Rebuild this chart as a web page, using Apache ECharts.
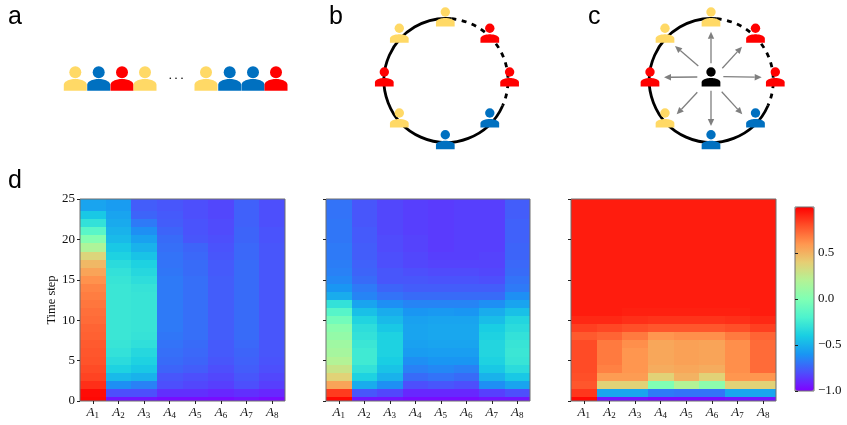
<!DOCTYPE html>
<html><head><meta charset="utf-8">
<style>html,body{margin:0;padding:0;background:#fff}#c{width:847px;height:425px}</style>
<script src="https://cdn.jsdelivr.net/npm/echarts@6/dist/echarts.min.js"></script>
</head><body><div id="c"></div>
<script>
const agentLabels = ['1','2','3','4','5','6','7','8'];
const yTicks = [0,5,10,15,20,25];
const colorbarTicks = [-1,-0.5,0,0.5];
const panelLetters = ['a','b','c','d'];
const lineAgents = ['y','b','r','y','y','b','b','r'];
const ringAgents = ['y','r','r','b','b','y','r','y'];

// each column is one agent, values from t=0 to t=25
const panelA = [
 [0.98,0.97,0.88,0.83,0.81,0.79,0.78,0.77,0.75,0.74,0.72,0.71,0.69,0.67,0.65,0.61,0.55,0.48,0.36,0.18,0.02,-0.15,-0.3,-0.42,-0.55,-0.55],
 [-0.95,-0.8,-0.62,-0.47,-0.38,-0.33,-0.3,-0.28,-0.27,-0.27,-0.27,-0.27,-0.27,-0.27,-0.27,-0.28,-0.3,-0.33,-0.38,-0.42,-0.47,-0.5,-0.53,-0.55,-0.58,-0.58],
 [-0.95,-0.8,-0.66,-0.5,-0.42,-0.38,-0.35,-0.31,-0.29,-0.28,-0.28,-0.28,-0.28,-0.28,-0.29,-0.32,-0.35,-0.38,-0.44,-0.5,-0.56,-0.62,-0.68,-0.74,-0.76,-0.76],
 [-0.97,-0.88,-0.8,-0.78,-0.74,-0.72,-0.71,-0.7,-0.69,-0.68,-0.68,-0.68,-0.68,-0.68,-0.68,-0.68,-0.69,-0.7,-0.7,-0.71,-0.72,-0.74,-0.76,-0.77,-0.78,-0.78],
 [-0.97,-0.88,-0.82,-0.8,-0.76,-0.74,-0.73,-0.72,-0.71,-0.71,-0.71,-0.71,-0.71,-0.71,-0.71,-0.71,-0.72,-0.72,-0.73,-0.74,-0.78,-0.79,-0.79,-0.8,-0.8,-0.8],
 [-0.97,-0.9,-0.84,-0.82,-0.8,-0.78,-0.77,-0.77,-0.76,-0.76,-0.76,-0.76,-0.76,-0.76,-0.76,-0.76,-0.77,-0.77,-0.78,-0.79,-0.8,-0.81,-0.81,-0.82,-0.82,-0.82],
 [-0.95,-0.88,-0.8,-0.78,-0.76,-0.75,-0.74,-0.73,-0.72,-0.72,-0.72,-0.72,-0.72,-0.72,-0.72,-0.72,-0.72,-0.72,-0.73,-0.73,-0.74,-0.74,-0.75,-0.75,-0.75,-0.75],
 [-0.97,-0.9,-0.84,-0.82,-0.8,-0.79,-0.78,-0.78,-0.78,-0.78,-0.78,-0.78,-0.78,-0.78,-0.78,-0.78,-0.78,-0.78,-0.78,-0.78,-0.79,-0.79,-0.8,-0.8,-0.8,-0.8]
];
const panelB = [
 [0.98,0.85,0.55,0.38,0.28,0.2,0.15,0.12,0.08,0.04,-0.05,-0.16,-0.3,-0.52,-0.6,-0.64,-0.66,-0.67,-0.68,-0.68,-0.69,-0.69,-0.69,-0.7,-0.7,-0.7],
 [-0.95,-0.78,-0.52,-0.38,-0.3,-0.25,-0.25,-0.27,-0.3,-0.32,-0.37,-0.45,-0.55,-0.65,-0.68,-0.72,-0.74,-0.75,-0.76,-0.76,-0.77,-0.77,-0.78,-0.78,-0.78,-0.78],
 [-0.95,-0.82,-0.62,-0.5,-0.44,-0.4,-0.38,-0.38,-0.38,-0.42,-0.47,-0.52,-0.62,-0.7,-0.74,-0.78,-0.78,-0.8,-0.8,-0.81,-0.81,-0.82,-0.82,-0.82,-0.82,-0.82],
 [-0.97,-0.9,-0.8,-0.72,-0.66,-0.62,-0.58,-0.56,-0.55,-0.55,-0.56,-0.6,-0.65,-0.72,-0.76,-0.78,-0.8,-0.82,-0.82,-0.83,-0.83,-0.84,-0.84,-0.84,-0.84,-0.84],
 [-0.97,-0.9,-0.78,-0.7,-0.64,-0.6,-0.57,-0.55,-0.54,-0.54,-0.55,-0.59,-0.65,-0.72,-0.76,-0.79,-0.81,-0.83,-0.84,-0.85,-0.85,-0.85,-0.85,-0.85,-0.85,-0.85],
 [-0.97,-0.9,-0.8,-0.72,-0.66,-0.6,-0.57,-0.55,-0.54,-0.54,-0.55,-0.6,-0.65,-0.72,-0.76,-0.79,-0.81,-0.83,-0.84,-0.84,-0.84,-0.84,-0.84,-0.84,-0.84,-0.84],
 [-0.95,-0.84,-0.62,-0.5,-0.42,-0.38,-0.36,-0.36,-0.38,-0.4,-0.46,-0.52,-0.62,-0.72,-0.76,-0.8,-0.82,-0.83,-0.83,-0.84,-0.84,-0.84,-0.84,-0.84,-0.84,-0.84],
 [-0.95,-0.8,-0.55,-0.42,-0.33,-0.28,-0.27,-0.28,-0.3,-0.33,-0.36,-0.45,-0.55,-0.62,-0.68,-0.7,-0.72,-0.73,-0.74,-0.74,-0.75,-0.75,-0.75,-0.76,-0.76,-0.76]
];
const panelC = [
 [0.98,0.86,0.78,0.8,0.81,0.81,0.81,0.81,0.77,0.84,0.9,0.93,0.93,0.93,0.93,0.93,0.93,0.93,0.93,0.93,0.93,0.93,0.93,0.93,0.93,0.93],
 [-0.95,-0.55,0.38,0.58,0.66,0.68,0.68,0.68,0.74,0.82,0.9,0.93,0.93,0.93,0.93,0.93,0.93,0.93,0.93,0.93,0.93,0.93,0.93,0.93,0.93,0.93],
 [-0.95,-0.55,0.38,0.58,0.6,0.6,0.6,0.62,0.68,0.8,0.88,0.92,0.93,0.93,0.93,0.93,0.93,0.93,0.93,0.93,0.93,0.93,0.93,0.93,0.93,0.93],
 [-0.97,-0.68,0.0,0.38,0.52,0.54,0.54,0.54,0.6,0.78,0.87,0.92,0.93,0.93,0.93,0.93,0.93,0.93,0.93,0.93,0.93,0.93,0.93,0.93,0.93,0.93],
 [-0.97,-0.7,0.2,0.5,0.54,0.56,0.56,0.56,0.62,0.78,0.87,0.92,0.93,0.93,0.93,0.93,0.93,0.93,0.93,0.93,0.93,0.93,0.93,0.93,0.93,0.93],
 [-0.97,-0.7,0.05,0.38,0.52,0.55,0.55,0.55,0.62,0.78,0.87,0.92,0.93,0.93,0.93,0.93,0.93,0.93,0.93,0.93,0.93,0.93,0.93,0.93,0.93,0.93],
 [-0.95,-0.55,0.38,0.6,0.62,0.62,0.62,0.62,0.68,0.8,0.88,0.92,0.93,0.93,0.93,0.93,0.93,0.93,0.93,0.93,0.93,0.93,0.93,0.93,0.93,0.93],
 [-0.95,-0.55,0.38,0.6,0.72,0.72,0.72,0.72,0.74,0.84,0.9,0.93,0.93,0.93,0.93,0.93,0.93,0.93,0.93,0.93,0.93,0.93,0.93,0.93,0.93,0.93]
];
const rainbow = ['#8000ff','#4d4ffc','#1996f3','#19cee3','#4df3ce','#80ffb4','#b3f396','#e6ce74','#ff964f','#ff4f28','#ff0000'];
const agentColor = {y:'#FFD966', b:'#0070C0', r:'#FF0000', k:'#000000'};

const SERIF = '"Liberation Serif","Times New Roman",serif';
const SANS = '"Liberation Sans",Arial,sans-serif';
const SPINE = '#6e6e6e';

function cellTriples(cols){
  const out = [];
  cols.forEach((col,i)=>col.forEach((v,t)=>out.push([i,t,v])));
  return out;
}
function renderCell(params, api){
  const i = api.value(0), t = api.value(1);
  const a = api.coord([i, Math.max(0,t-0.5)]);
  const b = api.coord([i, Math.min(25,t+0.5)]);
  const w = api.size([1,0])[0];
  const x0 = Math.round(a[0]-w/2), x1 = Math.round(a[0]+w/2);
  const y0 = Math.round(b[1]), y1 = Math.round(a[1]);
  return {type:'rect', shape:{x:x0,y:y0,width:x1-x0,height:y1-y0}, style:{fill:api.visual('color')}};
}
const grids = [[80,205],[326,204],[571,205]].map(g=>({left:g[0],width:g[1],top:199,height:202,show:true,backgroundColor:'transparent',borderColor:SPINE,borderWidth:1,z:3}));
grids.push({left:795,width:19,top:207,height:184,show:true,backgroundColor:'transparent',borderColor:SPINE,borderWidth:1,z:6});

const xAxes = [0,1,2].map(k=>({
  gridIndex:k,type:'category',data:agentLabels,boundaryGap:true,z:4,
  axisLine:{show:false},
  axisTick:{show:true,alignWithLabel:true,length:3,lineStyle:{color:'#222',width:1}},
  axisLabel:{margin:5,interval:0,formatter:v=>'{a|A}{s|'+v+'}',
    rich:{a:{fontFamily:SERIF,fontStyle:'italic',fontSize:13,color:'#111'},
          s:{fontFamily:SERIF,fontSize:9,color:'#111',verticalAlign:'bottom',padding:[5,0,0,0]}}},
  splitLine:{show:false}
}));
xAxes.push({gridIndex:3,type:'value',show:false,min:0,max:1});
const yAxes = [0,1,2].map(k=>({
  gridIndex:k,type:'value',min:0,max:25,interval:5,z:4,
  axisLine:{show:false},
  axisTick:{show:true,length:3,lineStyle:{color:'#222',width:1}},
  axisLabel:{show:k===0,margin:5,fontFamily:SERIF,fontSize:13,color:'#111',formatter:v=>yTicks.includes(v)?String(v):''},
  splitLine:{show:false},
  name:k===0?'Time step':'',nameLocation:'middle',nameGap:18,nameRotate:90,
  nameTextStyle:{fontFamily:SERIF,fontSize:12.5,color:'#111'}
}));
yAxes.push({gridIndex:3,type:'value',position:'right',min:-1,max:1,z:7,
  axisLine:{show:false},
  axisTick:{show:true,length:3,lineStyle:{color:'#222',width:1},customValues:colorbarTicks},
  axisLabel:{margin:4,fontFamily:SERIF,fontSize:13,color:'#111',customValues:colorbarTicks,
    formatter:v=>{const a=Math.abs(v).toFixed(1);return (v<0?'\u2212':'')+a;}},
  splitLine:{show:false}});

const series = [panelA,panelB,panelC].map((cols,k)=>({
  type:'custom',xAxisIndex:k,yAxisIndex:k,coordinateSystem:'cartesian2d',
  data:cellTriples(cols),renderItem:renderCell,encode:{x:0,y:1},silent:true,clip:true,animation:false,z:2
}));

// ---- schematic drawings ----
const g = [];
function bodyOutline(cx,top,w,h){
  // flat base, short straight sides, domed shoulders
  const pts = [[cx-w/2,top+h]];
  const dh = 0.5*h;
  for(let k=0;k<=32;k++){
    const th = Math.PI*(1-k/32);
    pts.push([cx+Math.cos(th)*w/2, top+dh-dh*Math.sin(th)]);
  }
  pts.push([cx+w/2,top+h]);
  return pts;
}
function person(cx,headY,size,color){
  g.push({type:'circle',shape:{cx:cx,cy:headY,r:size.head},style:{fill:color},z:20});
  g.push({type:'polygon',z:20,shape:{points:bodyOutline(cx,headY+size.gap,size.w,size.h)},style:{fill:color}});
}
const bigIcon = {head:6,w:23,h:11.7,gap:6.7};
const smallIcon = {head:4.7,w:18.7,h:8.5,gap:6};
const lineX = [75.3,98.7,122,145,206,229.7,253,276];
lineAgents.forEach((c,i)=>person(lineX[i],72.3,bigIcon,agentColor[c]));
[170.3,176,182].forEach(x=>g.push({type:'circle',shape:{cx:x,cy:78.3,r:0.8},style:{fill:'#000'},z:20}));

const ringY = 80.5, ringR = 62;
const ringDx = [0,44.5,64.3,44.5,0,-46,-61,-46];
const ringHeadY = [12,28.3,72,113,134.7,113,72,28.3];
function ring(cx,topX){
  const rad = d=>d*Math.PI/180;
  g.push({type:'arc',shape:{cx:cx,cy:ringY,r:ringR,startAngle:rad(24),endAngle:rad(275),clockwise:true},
    style:{stroke:'#000',fill:null,lineWidth:2.8},z:10});
  g.push({type:'arc',shape:{cx:cx,cy:ringY,r:ringR,startAngle:rad(-85),endAngle:rad(24),clockwise:true},
    style:{stroke:'#000',fill:null,lineWidth:2.8,lineDash:[5,5.5]},z:10});
  ringAgents.forEach((c,i)=>person(topX+ringDx[i], ringHeadY[i], smallIcon, agentColor[c]));
}
ring(446,445.3);
ring(711.3,711);
person(711,72,smallIcon,agentColor.k);
function arrow(x1,y1,x2,y2){
  const a = Math.atan2(y2-y1,x2-x1), L = 7, W = 3.2;
  const bx = x2-L*Math.cos(a), by = y2-L*Math.sin(a);
  g.push({type:'line',shape:{x1:x1,y1:y1,x2:bx,y2:by},style:{stroke:'#7f7f7f',lineWidth:1.3},z:15});
  g.push({type:'polygon',shape:{points:[[x2,y2],[bx-W*Math.sin(a),by+W*Math.cos(a)],[bx+W*Math.sin(a),by-W*Math.cos(a)]]},style:{fill:'#7f7f7f'},z:15});
}
arrow(711,63.3,711,31.7);
arrow(723.3,76.7,761.7,77.3);
arrow(697.3,77,664,77.3);
arrow(711,90.7,711,126);
arrow(722.3,68.3,742,46.7);
arrow(698.3,66,675,46);
arrow(697.3,92.3,676.7,114.3);
arrow(721.7,91.7,742.3,114.3);
[[8,30],[329,30],[588,30],[8,194]].forEach((p,i)=>g.push({type:'text',z:20,
  x:p[0],y:p[1],style:{text:panelLetters[i],font:'25px '+SANS,fill:'#000',verticalAlign:'bottom'}}));

const chart = echarts.init(document.getElementById('c'),null,{renderer:'canvas'});
chart.setOption({
  animation:false,backgroundColor:'#fff',
  grid:grids,xAxis:xAxes,yAxis:yAxes,series:series,graphic:{elements:g},
  visualMap:{type:'continuous',min:-1,max:1,dimension:2,seriesIndex:[0,1,2],calculable:false,
    orient:'vertical',left:795,top:207,itemWidth:19,itemHeight:184,padding:0,text:null,
    inRange:{color:rainbow},z:4,silent:true}
});
</script></body></html>
